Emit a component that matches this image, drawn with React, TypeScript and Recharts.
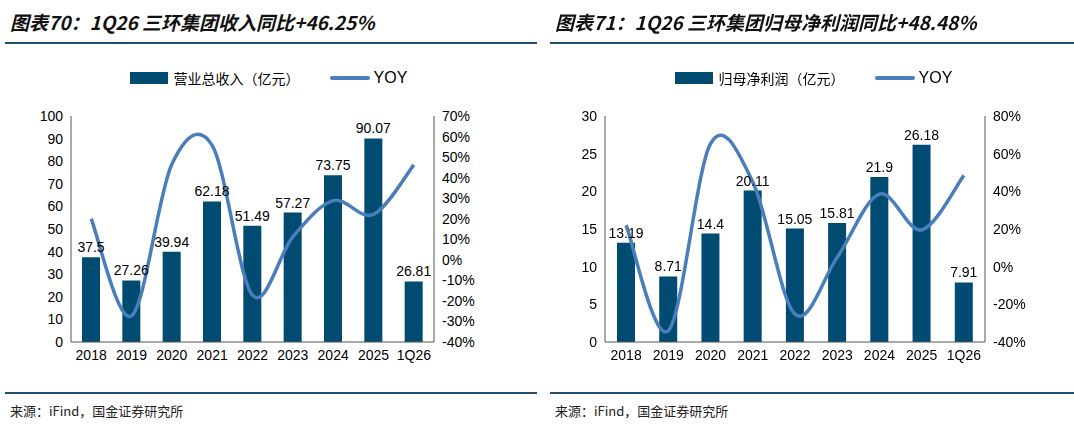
import React from "react";
import { ComposedChart, Bar, Line, XAxis, YAxis, LabelList } from "recharts";

const years = ["2018", "2019", "2020", "2021", "2022", "2023", "2024", "2025", "1Q26"];
const revenue = [37.5, 27.26, 39.94, 62.18, 51.49, 57.27, 73.75, 90.07, 26.81];
const revenueYoy = [20, -27.3, 46.5, 55.7, -17.2, 11.2, 28.8, 22.1, 46.25];
const profit = [13.19, 8.71, 14.4, 20.11, 15.05, 15.81, 21.9, 26.18, 7.91];
const profitYoy = [22, -34, 65.3, 45, -25.2, 5, 38.5, 19.5, 48.48];

const BAR = "#004b71";
const LINE = "#4a7ebb";
const FONT = "'Liberation Sans', Arial, sans-serif";

const d1 = years.map((y, i) => ({ y, v: revenue[i], r: revenueYoy[i] }));
const d2 = years.map((y, i) => ({ y, v: profit[i], r: profitYoy[i] }));

const tick = { fontSize: 14, fill: "#000", fontFamily: FONT };

// Excel-like smoothing (Catmull-Rom style bezier)
function smoothCurve(ctx: any) {
  let pts: [number, number][] = [];
  return {
    areaStart() {}, areaEnd() {},
    lineStart() { pts = []; },
    point(x: number, y: number) { pts.push([+x, +y]); },
    lineEnd() {
      if (!pts.length) return;
      ctx.moveTo(pts[0][0], pts[0][1]);
      for (let i = 0; i < pts.length - 1; i++) {
        const p0 = pts[i - 1] || pts[i];
        const p1 = pts[i];
        const p2 = pts[i + 1];
        const p3 = pts[i + 2] || p2;
        const t = 6;
        ctx.bezierCurveTo(
          p1[0] + (p2[0] - p0[0]) / t, p1[1] + (p2[1] - p0[1]) / t,
          p2[0] - (p3[0] - p1[0]) / t, p2[1] - (p3[1] - p1[1]) / t,
          p2[0], p2[1]
        );
      }
    },
  };
}

function Panel({ data, left, ml, mr, lmax, lticks, rdom, rticks, barName, title }: any) {
  return (
    <div style={{ position: "absolute", left, top: 0, width: 537, height: 427 }}>
      <div style={{ position: "absolute", left: 10, top: 8, fontSize: 19, fontWeight: "bold", fontStyle: "italic", fontFamily: "'Noto Sans CJK SC', sans-serif", color: "#111" }}>{title}</div>
      <div style={{ position: "absolute", left: 5, right: 0, top: 42, height: 1.5, background: "#1f4e6e" }} />
      <div style={{ position: "absolute", left: 0, width: 537, top: 68, display: "flex", justifyContent: "center", alignItems: "center", fontSize: 14, fontFamily: "'Noto Sans CJK SC', sans-serif" }}>
        <span style={{ width: 38, height: 12, background: BAR, display: "inline-block", marginRight: 6 }} />
        <span>{barName}</span>
        <span style={{ width: 40, height: 4, background: LINE, display: "inline-block", marginLeft: 30, marginRight: 4, borderRadius: 2 }} />
        <span style={{ fontFamily: FONT, fontSize: 16 }}>YOY</span>
      </div>
      <div style={{ position: "absolute", left: 0, top: 100 }}>
        <ComposedChart width={537} height={290} data={data} margin={{ top: 16, right: mr, bottom: 18, left: ml }}>
          <XAxis dataKey="y" tick={tick} tickLine={false} axisLine={{ stroke: "#555" }} height={30} interval={0} />
          <YAxis yAxisId="l" domain={[0, lmax]} ticks={lticks} interval={0} tick={tick} width={40} axisLine={{ stroke: "#555" }} tickLine={false} />
          <YAxis yAxisId="r" orientation="right" domain={rdom} ticks={rticks} interval={0} tick={tick} width={50} axisLine={{ stroke: "#555" }} tickLine={false} tickFormatter={(v: number) => v + "%"} />
          <Bar yAxisId="l" dataKey="v" fill={BAR} barSize={18} isAnimationActive={false}>
            <LabelList dataKey="v" position="top" style={{ fontSize: 14, fill: "#000", fontFamily: FONT }} />
          </Bar>
          <Line yAxisId="r" dataKey="r" type={smoothCurve as any} stroke={LINE} strokeWidth={3.5} dot={false} isAnimationActive={false} />
        </ComposedChart>
      </div>
      <div style={{ position: "absolute", left: 5, right: 0, top: 392, height: 1.5, background: "#1f4e6e" }} />
      <div style={{ position: "absolute", left: 10, top: 401, fontSize: 13, fontFamily: "'Noto Sans CJK SC', sans-serif", color: "#222" }}>来源：iFind，国金证券研究所</div>
    </div>
  );
}

export default function App() {
  return (
    <div style={{ position: "fixed", left: 0, top: 0, width: 1074, height: 427, background: "#fff" }}>
      <Panel data={d1} left={0} ml={31} mr={53} lmax={100} lticks={[0, 10, 20, 30, 40, 50, 60, 70, 80, 90, 100]}
        rdom={[-40, 70]} rticks={[-40, -30, -20, -10, 0, 10, 20, 30, 40, 50, 60, 70]}
        barName="营业总收入（亿元）" title="图表70：1Q26 三环集团收入同比+46.25%" />
      <Panel data={d2} left={545} ml={20} mr={47} lmax={30} lticks={[0, 5, 10, 15, 20, 25, 30]}
        rdom={[-40, 80]} rticks={[-40, -20, 0, 20, 40, 60, 80]}
        barName="归母净利润（亿元）" title="图表71：1Q26 三环集团归母净利润同比+48.48%" />
    </div>
  );
}
